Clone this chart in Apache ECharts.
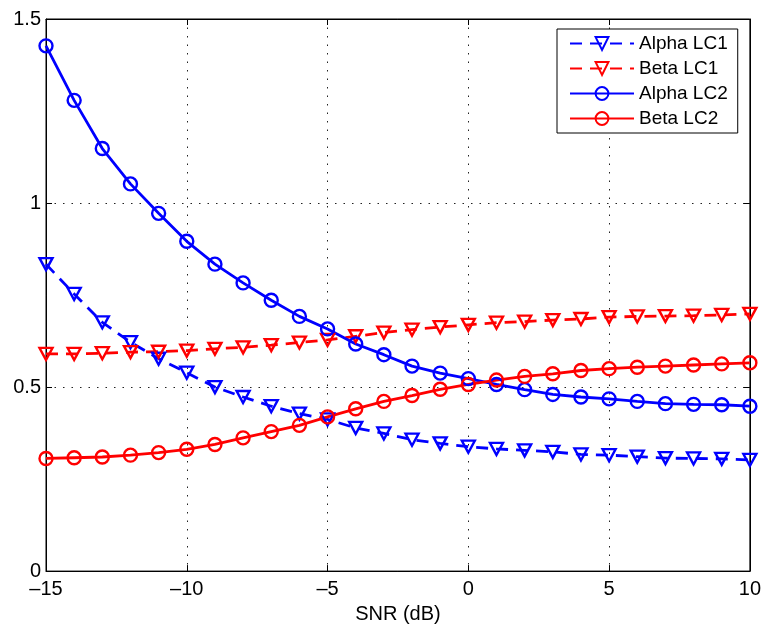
<!DOCTYPE html>
<html><head><meta charset="utf-8">
<script src="https://cdn.jsdelivr.net/npm/echarts@6/dist/echarts.min.js"></script>
<style>html,body{margin:0;padding:0;background:#fff}#c{width:764px;height:629px}</style>
</head><body><div id="c"></div>
<script>
const snr = [-15,-14,-13,-12,-11,-10,-9,-8,-7,-6,-5,-4,-3,-2,-1,0,1,2,3,4,5,6,7,8,9,10];
const alphaLC1 = [0.834,0.753,0.676,0.622,0.577,0.539,0.500,0.473,0.448,0.428,0.412,0.389,0.374,0.357,0.347,0.338,0.332,0.328,0.324,0.317,0.315,0.311,0.307,0.306,0.305,0.302];
const betaLC1  = [0.590,0.590,0.592,0.595,0.596,0.599,0.604,0.608,0.614,0.621,0.628,0.638,0.648,0.656,0.663,0.669,0.675,0.678,0.682,0.685,0.690,0.692,0.693,0.694,0.696,0.699];
const alphaLC2 = [1.427,1.279,1.148,1.052,0.972,0.896,0.834,0.783,0.736,0.692,0.658,0.617,0.588,0.557,0.538,0.523,0.507,0.493,0.480,0.473,0.468,0.461,0.455,0.453,0.452,0.448];
const betaLC2  = [0.306,0.308,0.310,0.315,0.322,0.331,0.344,0.362,0.379,0.396,0.419,0.441,0.461,0.477,0.494,0.507,0.519,0.529,0.536,0.545,0.550,0.554,0.557,0.560,0.563,0.566];
const seriesNames = ['Alpha LC1','Beta LC1','Alpha LC2','Beta LC2'];
const xTicks = {min:-15, max:10, step:5};
const yTicks = {min:0, max:1.5, step:0.5};

const FONT = 'Liberation Sans';
const pair = (ys) => snr.map((x,i)=>[x, ys[i]]);
function mk(name, ys, color, dashed, tri){
  return {
    name, type:'line', data: pair(ys),
    symbol: tri ? 'triangle' : 'circle',
    symbolSize: tri ? [13,12] : 13,
    symbolRotate: tri ? 180 : 0,
    showSymbol: true,
    itemStyle: {color:'rgba(0,0,0,0)', borderColor: color, borderWidth: 2.4},
    lineStyle: {color, width: 2.8, type: dashed ? [12,8] : 'solid'},
    emphasis: {disabled:true},
    animation: false
  };
}
const chart = echarts.init(document.getElementById('c'), null, {renderer:'canvas'});
const fmtX = v => String(v).replace('-', '\u2013');
const gridLine = {show:true, lineStyle:{color:'#222', width:1, type:[1.5,7]}};
const axLine = {show:true, onZero:false, lineStyle:{color:'#000', width:1}};
const tick = {show:true, inside:true, length:6, lineStyle:{color:'#000'}};
chart.setOption({
  animation:false,
  backgroundColor:'#fff',
  grid:{left:46, right:13, top:19, bottom:56, show:true, borderColor:'#000', borderWidth:1, backgroundColor:'transparent'},
  legend:{
    data: seriesNames,
    orient:'vertical', left:557, top:29,
    backgroundColor:'#fff', borderColor:'#000', borderWidth:1,
    padding:[5,10,5,12], itemGap:6, itemWidth:64, itemHeight:16,
    textStyle:{fontFamily:FONT, fontSize:19, color:'#000'}
  },
  xAxis:[{
    type:'value', min:xTicks.min, max:xTicks.max, interval:xTicks.step,
    name:'SNR (dB)', nameLocation:'middle', nameGap:30,
    nameTextStyle:{fontFamily:FONT, fontSize:20, color:'#000'},
    axisLine: axLine, axisTick: tick,
    axisLabel:{fontFamily:FONT, fontSize:20, color:'#000', margin:8, formatter: fmtX},
    splitLine: gridLine
  },{
    type:'value', position:'top', min:xTicks.min, max:xTicks.max, interval:xTicks.step,
    axisLine: axLine, axisTick: tick,
    axisLabel:{show:false}, splitLine:{show:false}
  }],
  yAxis:[{
    type:'value', min:yTicks.min, max:yTicks.max, interval:yTicks.step,
    axisLine: axLine, axisTick: tick,
    axisLabel:{fontFamily:FONT, fontSize:20, color:'#000', margin:5},
    splitLine: gridLine
  },{
    type:'value', position:'right', min:yTicks.min, max:yTicks.max, interval:yTicks.step,
    axisLine: axLine, axisTick: tick,
    axisLabel:{show:false}, splitLine:{show:false}
  }],
  series:[
    mk(seriesNames[0], alphaLC1, '#0000ff', true, true),
    mk(seriesNames[1], betaLC1, '#ff0000', true, true),
    mk(seriesNames[2], alphaLC2, '#0000ff', false, false),
    mk(seriesNames[3], betaLC2, '#ff0000', false, false)
  ]
});
</script></body></html>
